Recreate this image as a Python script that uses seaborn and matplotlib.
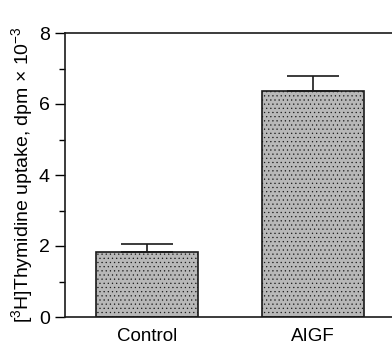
import matplotlib
matplotlib.use("Agg")
import matplotlib.pyplot as plt
import seaborn as sns
from matplotlib.ticker import MultipleLocator

groups = ["Control", "AIGF"]
uptake = [1.83, 6.37]
sem = [0.22, 0.42]

sns.set_style("ticks")
plt.rcParams["font.family"] = ["Liberation Sans", "DejaVu Sans"]
plt.rcParams["mathtext.fontset"] = "custom"
plt.rcParams["mathtext.rm"] = "Liberation Sans"
plt.rcParams["mathtext.it"] = "Liberation Sans"
plt.rcParams["hatch.color"] = "#9a9a9a"
plt.rcParams["hatch.linewidth"] = 0.4
plt.rcParams["text.color"] = "black"
plt.rcParams["axes.labelcolor"] = "black"
plt.rcParams["xtick.color"] = "black"
plt.rcParams["ytick.color"] = "black"

fig = plt.figure(figsize=(3.92, 3.53), dpi=100)
ax = fig.add_axes([65 / 392, 1 - 317 / 353, 1 - 65 / 392 + 0.01, 284 / 353])

sns.barplot(x=groups, y=uptake, color="#b8b8b8", saturation=1, width=0.615,
            edgecolor="#1a1a1a", linewidth=1.2, errorbar=None, ax=ax)
for p in ax.patches:
    p.set_hatch("....")
ax.errorbar(range(len(groups)), uptake, yerr=[[0] * len(sem), sem], fmt="none",
            ecolor="#1a1a1a", elinewidth=1.2, capsize=18.7, capthick=1.2)

ax.set_ylim(0, 8)
ax.set_xlim(-0.494, 1.5)
ax.yaxis.set_major_locator(MultipleLocator(2))
ax.yaxis.set_minor_locator(MultipleLocator(1))
ax.tick_params(axis="y", which="major", length=7, width=1, labelsize=14, pad=4)
ax.tick_params(axis="y", which="minor", length=4, width=1)
ax.tick_params(axis="x", length=0, labelsize=13.5, pad=8)
for side in ["left", "bottom", "top"]:
    ax.spines[side].set_linewidth(1.2)
    ax.spines[side].set_color("#1a1a1a")
ax.spines["right"].set_visible(False)
ax.set_ylabel("[$^{3}$H]Thymidine uptake, dpm \u00d7 10$^{-3}$", fontsize=14, labelpad=3)

fig.savefig("out.png", dpi=100)
